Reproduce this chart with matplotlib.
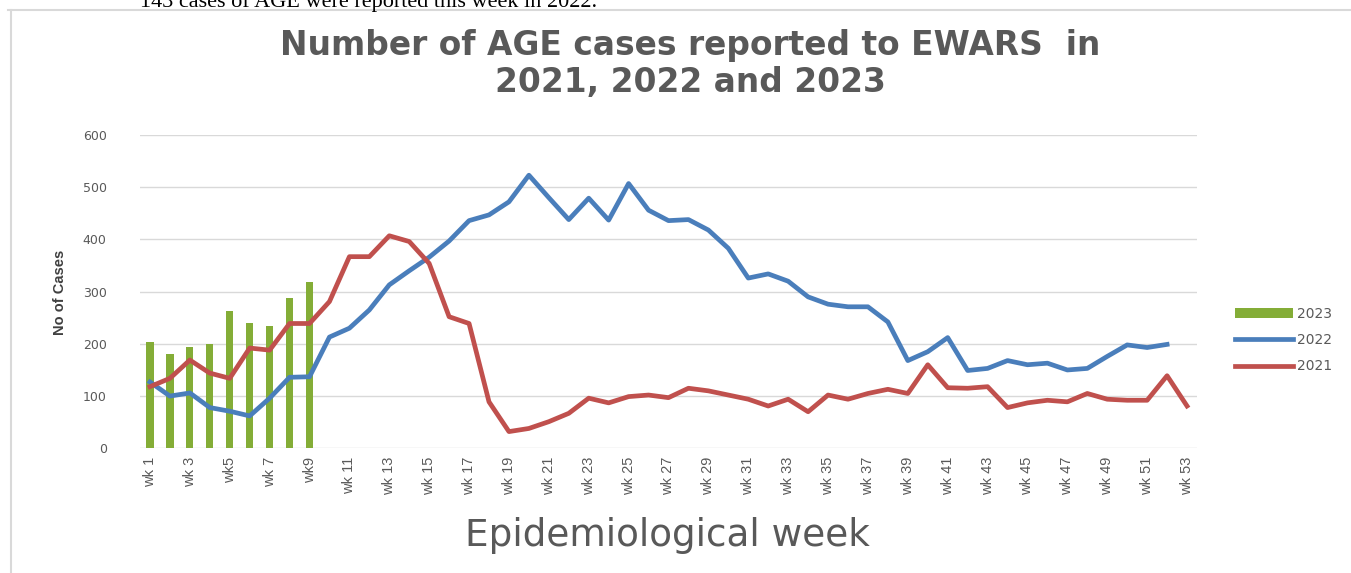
import matplotlib
matplotlib.use("Agg")
import matplotlib.pyplot as plt
from matplotlib.lines import Line2D
import numpy as np

# ---- data ----
weeks = ["wk %d" % i for i in range(1, 54)]
tick_labels = ["wk 1", "wk 3", "wk5", "wk 7", "wk9"] + ["wk %d" % i for i in range(11, 54, 2)]
cases_2023 = [203, 181, 194, 200, 262, 240, 234, 288, 319]
cases_2022 = [127, 100, 106, 78, 71, 62, 96, 136, 137, 213, 230, 265, 313, 340, 366,
              397, 436, 447, 472, 523, 480, 438, 479, 437, 507, 456, 436, 438, 418,
              383, 326, 334, 320, 290, 276, 271, 271, 242, 168, 185, 212, 149, 153,
              168, 160, 163, 150, 153, 176, 198, 193, 199]
cases_2021 = [118, 134, 169, 144, 134, 192, 188, 239, 239, 281, 367, 367, 407, 396, 354,
              252, 239, 89, 32, 38, 51, 67, 96, 87, 99, 102, 97, 115, 110, 102, 94,
              81, 94, 70, 102, 94, 105, 113, 105, 160, 116, 115, 118, 78, 87, 92, 89,
              105, 94, 92, 92, 139, 81]
yticks = [0, 100, 200, 300, 400, 500, 600]

W, H = 1351, 573
fig = plt.figure(figsize=(W / 100, H / 100), dpi=100)
grey = "#595959"
renderer = fig.canvas.get_renderer()


def fit_width(txt, target_px):
    bb = txt.get_window_extent(renderer=renderer)
    txt.set_fontsize(txt.get_fontsize() * target_px / bb.width)
    return txt.get_fontsize()


ax = fig.add_axes([140 / W, 1 - 448.3 / H, 1057 / W, 313.3 / H])
x_all = np.arange(len(weeks))

h23 = ax.bar(x_all[:len(cases_2023)], cases_2023, width=0.36, color="#84ad37",
             label="2023", zorder=2)
h22, = ax.plot(x_all[:len(cases_2022)], cases_2022, color="#4a7ebb", lw=3.4,
               solid_joinstyle="round", label="2022", zorder=3)
h21, = ax.plot(x_all[:len(cases_2021)], cases_2021, color="#c0504d", lw=3.4,
               solid_joinstyle="round", label="2021", zorder=4)

ax.set_xlim(-0.5, len(weeks) - 0.5)
ax.set_ylim(0, 600)
ax.set_yticks(yticks)
ax.set_yticklabels([str(v) for v in yticks], color=grey, fontsize=9,
                   family=["DejaVu Sans"])
ax.set_xticks(x_all[::2])
ax.set_xticklabels(tick_labels, rotation=90, color=grey, fontsize=10.5,
                   family=["Liberation Sans Narrow", "Liberation Sans", "DejaVu Sans"])
ax.tick_params(axis="both", length=0)
ax.tick_params(axis="y", pad=24)
ax.tick_params(axis="x", pad=6)
ax.grid(axis="y", color="#d9d9d9", lw=1)
ax.set_axisbelow(True)
for s in ax.spines.values():
    s.set_visible(False)

# y label
fig.text(60 / W, 1 - 292 / H, "No of Cases", rotation=90, ha="center", va="center",
         fontsize=10.5, fontweight="bold", color="#404040",
         family=["Liberation Sans Narrow", "Liberation Sans", "DejaVu Sans"])
# x label
xl = fig.text(667 / W, 1 - 535 / H, "Epidemiological week", ha="center", va="center",
              fontsize=20, color=grey, family=["DejaVu Sans"])
fit_width(xl, 405)
# title
t1 = fig.text(690 / W, 1 - 55 / H, "Number of AGE cases reported to EWARS  in",
              ha="center", va="baseline", fontsize=20, fontweight="bold", color=grey,
              family=["DejaVu Sans"])
fs = fit_width(t1, 820)
fig.text(690 / W, 1 - 92 / H, "2021, 2022 and 2023",
         ha="center", va="baseline", fontsize=fs, fontweight="bold", color=grey,
         family=["DejaVu Sans"])

# document text above chart (cropped)
dt = fig.text(140 / W, 1 - 7 / H, "143 cases of AGE were reported this week in 2022.",
              ha="left", va="baseline", fontsize=15, color="black",
              family=["Liberation Serif", "DejaVu Serif"])
fit_width(dt, 460)

# chart frame
fig.add_artist(Line2D([8 / W, 1], [1 - 10 / H, 1 - 10 / H], color="#d9d9d9", lw=1.5,
                      transform=fig.transFigure))
fig.add_artist(Line2D([11 / W, 11 / W], [0, 1 - 10 / H], color="#d9d9d9", lw=1.5,
                      transform=fig.transFigure))

leg = ax.legend(handles=[h23, h22, h21], labels=["2023", "2022", "2021"],
                loc="center left", bbox_to_anchor=(1222 / W, 1 - 340 / H),
                bbox_transform=fig.transFigure, frameon=False,
                handlelength=4.2, handletextpad=0.3, labelspacing=0.9,
                prop={"family": ["DejaVu Sans"], "size": 10})
for t in leg.get_texts():
    t.set_color(grey)

fig.savefig("out.png", dpi=100)
